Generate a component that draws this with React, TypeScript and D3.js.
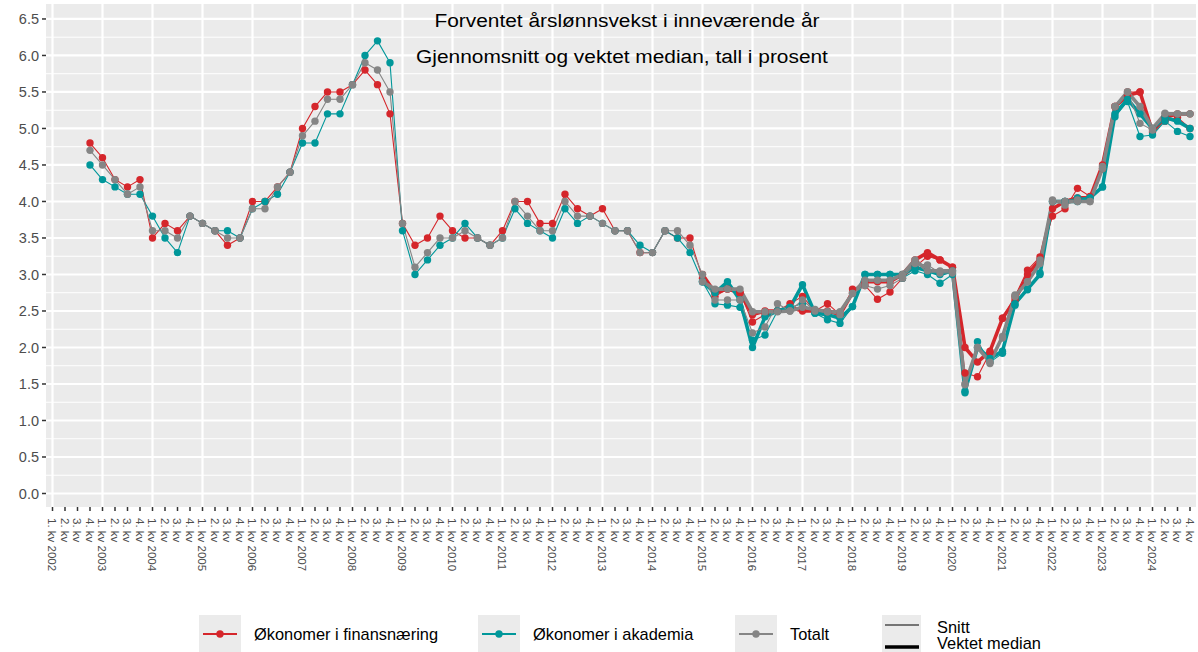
import * as d3 from "d3";

// categories
const years = d3.range(2002, 2025);
const quarterNames = ["1. kv", "2. kv", "3. kv", "4. kv"];

// first observation is 4. kv 2002 (means), medians start 1. kv 2015
const meanStart = "2002-4";
const medianStart = "2015-1";

const finansMean = [
  4.8,
  4.6, 4.3, 4.2, 4.3,
  3.5, 3.7, 3.6, 3.8,
  3.7, 3.6, 3.4, 3.5,
  4.0, 4.0, 4.2, 4.4,
  5.0, 5.3, 5.5, 5.5,
  5.6, 5.8, 5.6, 5.2,
  3.7, 3.4, 3.5, 3.8,
  3.6, 3.5, 3.5, 3.4,
  3.6, 4.0, 4.0, 3.7,
  3.7, 4.1, 3.9, 3.8,
  3.9, 3.6, 3.6, 3.3,
  3.3, 3.6, 3.5, 3.5,
  2.95, 2.7, 2.8, 2.75,
  2.35, 2.45, 2.5, 2.6,
  2.7, 2.5, 2.6, 2.45,
  2.8, 2.85, 2.66, 2.76,
  2.95, 3.1, 3.25, 3.2,
  3.1, 1.65, 1.6, 1.93,
  2.4, 2.7, 3.06, 3.24,
  3.8, 3.9, 4.18, 4.07,
  4.45, 5.3, 5.5, 5.5,
  5.0, 5.1, 5.15, 5.0,
];

const akademiaMean = [
  4.5,
  4.3, 4.2, 4.1, 4.1,
  3.8, 3.5, 3.3, 3.8,
  3.7, 3.6, 3.6, 3.5,
  3.9, 4.0, 4.1, 4.4,
  4.8, 4.8, 5.2, 5.2,
  5.6, 6.0, 6.2, 5.9,
  3.6, 3.0, 3.2, 3.4,
  3.5, 3.7, 3.5, 3.4,
  3.5, 3.9, 3.7, 3.6,
  3.5, 3.9, 3.7, 3.8,
  3.7, 3.6, 3.6, 3.4,
  3.3, 3.6, 3.5, 3.3,
  2.9, 2.6, 2.58, 2.55,
  2.1, 2.17, 2.5, 2.55,
  2.6, 2.47, 2.38, 2.33,
  2.56, 3.0, 3.0, 3.0,
  2.95, 3.05, 3.0, 2.88,
  3.0, 1.38, 2.08, 1.8,
  1.92, 2.58, 2.79, 3.02,
  4.0, 4.0, 4.05, 4.05,
  4.2, 5.16, 5.37, 4.89,
  4.91, 5.1, 4.96, 4.89,
];

const totaltMean = [
  4.7,
  4.5, 4.3, 4.1, 4.2,
  3.6, 3.6, 3.5, 3.8,
  3.7, 3.6, 3.5, 3.5,
  3.9, 3.9, 4.2, 4.4,
  4.9, 5.1, 5.4, 5.4,
  5.6, 5.9, 5.8, 5.5,
  3.7, 3.1, 3.3, 3.5,
  3.5, 3.6, 3.5, 3.4,
  3.5, 4.0, 3.8, 3.6,
  3.6, 4.0, 3.8, 3.8,
  3.7, 3.6, 3.6, 3.3,
  3.3, 3.6, 3.6, 3.4,
  3.0, 2.65, 2.65, 2.65,
  2.2, 2.28, 2.6, 2.5,
  2.65, 2.5, 2.49, 2.45,
  2.74, 2.85, 2.8, 2.85,
  2.95, 3.15, 3.13, 3.02,
  3.02, 1.49, 2.0, 1.78,
  2.13, 2.72, 2.9, 3.2,
  4.02, 3.95, 4.02, 4.0,
  4.48, 5.3, 5.5, 5.07,
  4.98, 5.21, 5.2, 5.2,
];

const finansMedian = [
  3.0, 2.75, 2.8, 2.75,
  2.45, 2.5, 2.5, 2.55,
  2.5, 2.5, 2.5, 2.45,
  2.75, 2.9, 2.9, 2.9,
  3.0, 3.2, 3.3, 3.2,
  3.1, 2.0, 1.8, 1.95,
  2.4, 2.65, 3.0, 3.2,
  3.9, 4.0, 4.05, 4.05,
  4.5, 5.3, 5.45, 5.5,
  4.95, 5.15, 5.2, 5.2,
];

const akademiaMedian = [
  2.9, 2.75, 2.9, 2.65,
  2.0, 2.42, 2.5, 2.55,
  2.86, 2.47, 2.45, 2.4,
  2.56, 3.0, 3.0, 3.0,
  3.0, 3.1, 3.05, 3.0,
  3.05, 1.4, 2.0, 1.85,
  1.95, 2.6, 2.8, 3.0,
  4.0, 4.0, 4.0, 4.05,
  4.2, 5.2, 5.4, 5.2,
  5.0, 5.15, 5.1, 5.0,
];

const totaltMedian = [
  2.9, 2.8, 2.8, 2.8,
  2.49, 2.49, 2.49, 2.5,
  2.55, 2.52, 2.49, 2.49,
  2.74, 2.92, 2.92, 2.92,
  3.0, 3.2, 3.05, 3.05,
  3.05, 1.5, 2.0, 1.8,
  2.15, 2.7, 2.9, 3.15,
  4.0, 4.0, 4.0, 4.0,
  4.45, 5.3, 5.5, 5.3,
  5.0, 5.2, 5.2, 5.2,
];

const yTicks = [0, 0.5, 1, 1.5, 2, 2.5, 3, 3.5, 4, 4.5, 5, 5.5, 6, 6.5];

const groups = [
  { name: "Økonomer i finansnæring", color: "#D5262B", mean: finansMean, median: finansMedian },
  { name: "Økonomer i akademia", color: "#00979A", mean: akademiaMean, median: akademiaMedian },
  { name: "Totalt", color: "#858585", mean: totaltMean, median: totaltMedian },
];

const W = 1198;
const H = 652;
const panel = { left: 46, right: 1196, top: 4, bottom: 507 };

const keys: string[] = [];
years.forEach((y) => quarterNames.forEach((_, qi) => keys.push(`${y}-${qi + 1}`)));

const x = d3.scalePoint<string>().domain(keys).range([52.5, 1190]);
const y = d3.scaleLinear().domain([-0.185, 6.705]).range([panel.bottom, panel.top]);

const tickLabel = (k: string) => {
  const [yr, q] = k.split("-");
  return q === "1" ? `${quarterNames[0]} ${yr}` : quarterNames[+q - 1];
};

type Pt = { k: string; v: number };
const toPoints = (vals: number[], start: string): Pt[] => {
  const s = keys.indexOf(start);
  return vals.map((v, i) => ({ k: keys[s + i], v }));
};

const line = d3
  .line<Pt>()
  .x((d) => x(d.k)!)
  .y((d) => y(d.v));

export default function App() {
  const minorTicks = d3.range(0.25, 6.8, 0.5);
  const yearKeys = years.map((yr) => `${yr}-1`);
  const font = "'Liberation Sans', Arial, sans-serif";
  const legendX = [199, 478, 735];

  return (
    <svg width={W} height={H} style={{ position: "absolute", left: 0, top: 0, fontFamily: font }}>
      <rect x={0} y={0} width={W} height={H} fill="#fff" />
      <rect
        x={panel.left}
        y={panel.top}
        width={panel.right - panel.left}
        height={panel.bottom - panel.top}
        fill="#EBEBEB"
      />
      {minorTicks.map((t) => (
        <line key={"mi" + t} x1={panel.left} x2={panel.right} y1={y(t)} y2={y(t)} stroke="#fff" strokeWidth={1} />
      ))}
      {[-0.5, ...yTicks].filter((t) => y(t) > panel.top && y(t) < panel.bottom).map((t) => (
        <line key={"ma" + t} x1={panel.left} x2={panel.right} y1={y(t)} y2={y(t)} stroke="#fff" strokeWidth={2.2} />
      ))}
      {yearKeys.map((k) => (
        <line key={"v" + k} x1={x(k)} x2={x(k)} y1={panel.top} y2={panel.bottom} stroke="#fff" strokeWidth={2.2} />
      ))}

      {/* title inside panel */}
      <g transform="translate(627,27) scale(1.16,1)">
        <text textAnchor="middle" fontSize={18} fill="#000">
          Forventet årslønnsvekst i inneværende år
        </text>
      </g>
      <g transform="translate(622,63) scale(1.16,1)">
        <text textAnchor="middle" fontSize={18} fill="#000">
          Gjennomsnitt og vektet median, tall i prosent
        </text>
      </g>

      {/* lines */}
      {groups.map((g) => (
        <g key={"l" + g.name}>
          <path d={line(toPoints(g.mean, meanStart))!} fill="none" stroke={g.color} strokeWidth={1.1} strokeLinejoin="round" />
          <path d={line(toPoints(g.median, medianStart))!} fill="none" stroke={g.color} strokeWidth={3.6} strokeLinejoin="round" />
        </g>
      ))}
      {/* points */}
      {groups.map((g) => (
        <g key={"p" + g.name} fill={g.color}>
          {toPoints(g.mean, meanStart).map((d) => (
            <circle key={"m" + d.k} cx={x(d.k)} cy={y(d.v)} r={3.7} />
          ))}
          {toPoints(g.median, medianStart).map((d) => (
            <circle key={"d" + d.k} cx={x(d.k)} cy={y(d.v)} r={3.7} />
          ))}
        </g>
      ))}

      {/* y axis */}
      {yTicks.map((t) => (
        <g key={"yt" + t}>
          <line x1={42} x2={46} y1={y(t)} y2={y(t)} stroke="#333" strokeWidth={1.5} />
          <text x={39} y={y(t)} dy="0.35em" textAnchor="end" fontSize={14.5} fill="#4D4D4D">
            {d3.format(".1f")(t)}
          </text>
        </g>
      ))}

      {/* x axis */}
      {keys.map((k) => (
        <g key={"xt" + k}>
          <line x1={x(k)} x2={x(k)} y1={panel.bottom} y2={panel.bottom + 4} stroke="#333" strokeWidth={1.5} />
          <text
            transform={`translate(${x(k)},${panel.bottom + 11}) rotate(90)`}
            dy="0.35em"
            textAnchor="start"
            fontSize={11.5}
            fill="#4D4D4D"
          >
            {tickLabel(k)}
          </text>
        </g>
      ))}

      {/* legend */}
      {groups.map((g, i) => {
        const lx = legendX[i];
        return (
          <g key={"lg" + g.name}>
            <rect x={lx} y={615} width={42} height={37} fill="#EBEBEB" />
            <line x1={lx + 4} x2={lx + 38} y1={634} y2={634} stroke={g.color} strokeWidth={2} />
            <circle cx={lx + 21} cy={634} r={3.7} fill={g.color} />
            <text x={lx + 55} y={634} dy="0.35em" fontSize={16.4} fill="#000">
              {g.name}
            </text>
          </g>
        );
      })}
      <rect x={882} y={615} width={39} height={37} fill="#EBEBEB" />
      <line x1={885} x2={919} y1={625} y2={625} stroke="#000" strokeWidth={1.1} />
      <line x1={885} x2={919} y1={647} y2={647} stroke="#000" strokeWidth={3.6} />
      <text x={937} y={627} dy="0.35em" fontSize={16.4} fill="#000">Snitt</text>
      <text x={937} y={643} dy="0.35em" fontSize={16.4} fill="#000">Vektet median</text>
    </svg>
  );
}
